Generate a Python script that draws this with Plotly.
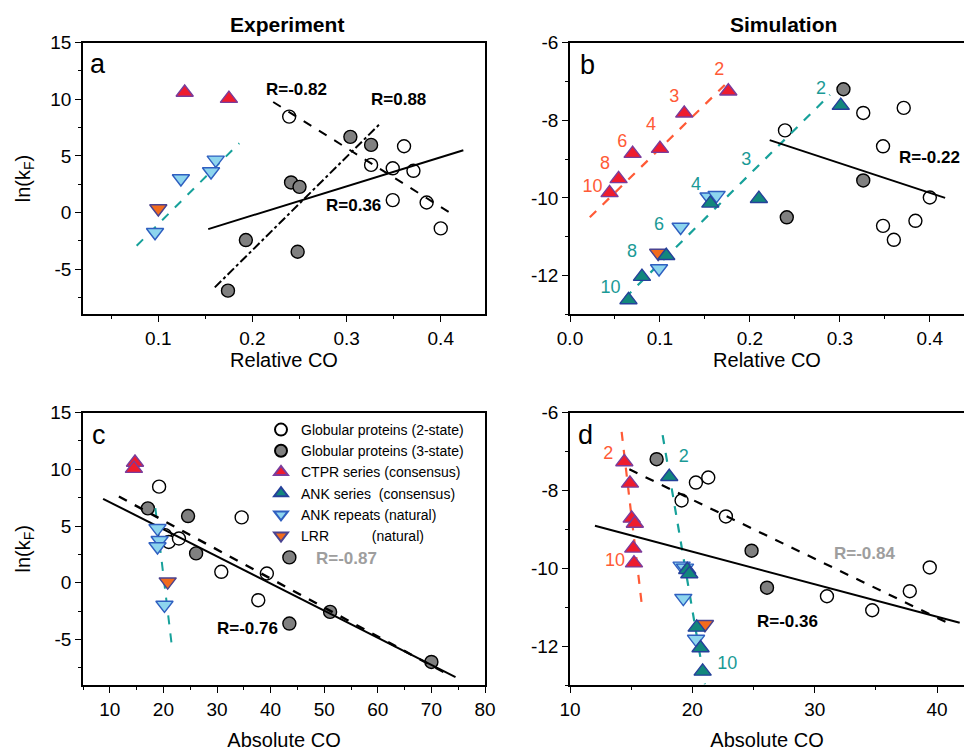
import plotly.graph_objects as go

# ---------------- data ----------------
# Panel a (Experiment, relative CO)
a_g2_x = [0.239, 0.326, 0.349, 0.361, 0.371, 0.349, 0.385, 0.400]
a_g2_y = [8.47, 4.2, 3.9, 5.85, 3.68, 1.09, 0.88, -1.41]
a_g3_x = [0.304, 0.326, 0.241, 0.250, 0.193, 0.248, 0.174]
a_g3_y = [6.68, 5.97, 2.65, 2.26, -2.44, -3.47, -6.91]
a_ctpr_x = [0.128, 0.175]
a_ctpr_y = [10.6, 10.06]
a_ankr_x = [0.0965, 0.124, 0.156, 0.161]
a_ankr_y = [-1.75, 3.0, 3.62, 4.65]
a_lrr_x = [0.100]
a_lrr_y = [0.35]
a_fit_teal_x = [0.077, 0.186]
a_fit_teal_y = [-2.94, 6.12]
a_fit_2s_x = [0.222, 0.414]
a_fit_2s_y = [9.76, -0.24]
a_fit_3s_x = [0.160, 0.336]
a_fit_3s_y = [-6.62, 7.88]
a_fit_all_x = [0.153, 0.424]
a_fit_all_y = [-1.47, 5.5]

# Panel b (Simulation, relative CO)
b_g2_x = [0.239, 0.326, 0.371, 0.348, 0.400, 0.348, 0.360, 0.384]
b_g2_y = [-8.26, -7.81, -7.68, -8.67, -9.99, -10.72, -11.08, -10.59]
b_g3_x = [0.304, 0.326, 0.241]
b_g3_y = [-7.2, -9.55, -10.5]
b_ctpr_x = [0.176, 0.127, 0.100, 0.0696, 0.054, 0.044]
b_ctpr_y = [-7.25, -7.82, -8.73, -8.86, -9.51, -9.87]
b_ank_x = [0.301, 0.210, 0.156, 0.107, 0.080, 0.065]
b_ank_y = [-7.62, -10.02, -10.14, -11.49, -12.03, -12.63]
b_ankr_x = [0.154, 0.163, 0.123, 0.099]
b_ankr_y = [-9.97, -9.93, -10.75, -11.82]
b_lrr_x = [0.098]
b_lrr_y = [-11.42]
b_fit_ctpr_x = [0.022, 0.176]
b_fit_ctpr_y = [-10.5, -7.0]
b_fit_ank_x = [0.061, 0.289]
b_fit_ank_y = [-12.58, -7.34]
b_fit_glob_x = [0.222, 0.417]
b_fit_glob_y = [-8.51, -10.0]
b_lab_ctpr = ["2", "3", "4", "6", "8", "10"]
b_lab_ctpr_x = [0.166, 0.116, 0.090, 0.058, 0.039, 0.025]
b_lab_ctpr_y = [-6.72, -7.40, -8.13, -8.56, -9.15, -9.72]
b_lab_ank = ["2", "3", "4", "6", "8", "10"]
b_lab_ank_x = [0.279, 0.196, 0.140, 0.099, 0.069, 0.045]
b_lab_ank_y = [-7.20, -9.03, -9.68, -10.70, -11.42, -12.34]

# Panel c (Experiment, absolute CO)
c_g2_x = [19.2, 20.3, 21.0, 22.9, 34.6, 30.8, 39.3, 37.7]
c_g2_y = [8.47, 4.2, 3.6, 3.9, 5.76, 0.97, 0.82, -1.53]
c_g3_x = [17.1, 24.6, 26.1, 43.5, 43.5, 51.1, 70.0]
c_g3_y = [6.56, 5.88, 2.59, 2.24, -3.59, -2.56, -6.97]
c_ctpr_x = [14.7, 14.5]
c_ctpr_y = [10.6, 10.06]
c_ankr_x = [18.9, 19.3, 18.9, 20.2]
c_ankr_y = [4.8, 3.75, 3.2, -1.95]
c_lrr_x = [20.8]
c_lrr_y = [0.1]
c_fit_teal_x = [18.5, 21.6]
c_fit_teal_y = [6.57, -5.65]
c_fit_all_x = [8.75, 74.5]
c_fit_all_y = [7.4, -8.3]
c_fit_glob_x = [11.7, 72.8]
c_fit_glob_y = [7.6, -8.0]

# Panel d (Simulation, absolute CO)
d_g2_x = [20.29, 21.3, 19.12, 22.74, 31.0, 34.7, 37.77, 39.4]
d_g2_y = [-7.8, -7.67, -8.26, -8.67, -10.72, -11.08, -10.59, -9.98]
d_g3_x = [17.08, 24.84, 26.1]
d_g3_y = [-7.2, -9.55, -10.5]
d_ctpr_x = [14.44, 14.9, 15.04, 15.3, 15.17, 15.23]
d_ctpr_y = [-7.27, -7.82, -8.72, -8.85, -9.49, -9.87]
d_ank_x = [18.11, 19.58, 19.75, 20.35, 20.67, 20.84]
d_ank_y = [-7.65, -10.04, -10.15, -11.52, -12.05, -12.65]
d_ankr_x = [19.12, 19.4, 19.26, 20.3]
d_ankr_y = [-9.94, -9.99, -10.77, -11.82]
d_lrr_x = [21.03]
d_lrr_y = [-11.44]
d_fit_ctpr_x = [14.22, 15.9]
d_fit_ctpr_y = [-6.5, -11.02]
d_fit_ank_x = [17.57, 21.03]
d_fit_ank_y = [-6.58, -12.98]
d_fit_all_x = [12.04, 41.85]
d_fit_all_y = [-8.91, -11.4]
d_fit_glob_x = [14.85, 41.3]
d_fit_glob_y = [-7.46, -11.47]
d_lab_ctpr = ["2", "10"]
d_lab_ctpr_x = [13.13, 13.68]
d_lab_ctpr_y = [-7.09, -9.82]
d_lab_ank = ["2", "10"]
d_lab_ank_x = [19.3, 22.85]
d_lab_ank_y = [-7.15, -12.47]

# correlation labels
a_r_text = ["R=-0.82", "R=0.88", "R=0.36"]
a_r_x = [0.247, 0.355, 0.307]
a_r_y = [10.9, 10.0, 0.59]
b_r_text = ["R=-0.22"]
b_r_x = [0.400]
b_r_y = [-8.97]
c_r_text = ["R=-0.87", "R=-0.76"]
c_r_x = [54.2, 35.6]
c_r_y = [2.15, -4.0]
d_r_text = ["R=-0.84", "R=-0.36"]
d_r_x = [34.1, 27.8]
d_r_y = [-9.61, -11.38]

# tick values / labels
lnk_ticks_exp = [-5, 0, 5, 10, 15]
lnk_text_exp = ["-5", "0", "5", "10", "15"]
lnk_ticks_sim = [-12, -10, -8, -6]
lnk_text_sim = ["-12", "-10", "-8", "-6"]

legend_names = ["Globular proteins (2-state)", "Globular proteins (3-state)",
                "CTPR series (consensus)", "ANK series\u00a0 (consensus)",
                "ANK repeats (natural)",
                "LRR\u00a0\u00a0\u00a0\u00a0\u00a0\u00a0\u00a0\u00a0\u00a0\u00a0 (natural)"]

# ---------------- styles ----------------
FONT = "Arial, Liberation Sans, sans-serif"
RED_F, RED_L = "#ee1c2e", "#7a3c9c"
ANK_F, ANK_L = "#12877c", "#25409a"
ANKR_F, ANKR_L = "#8dd5ee", "#2f5fc0"
LRR_F, LRR_L = "#f26b1d", "#4a4390"
GRAY = "#808080"
TEAL_LINE = "#17a19a"
RED_LINE = "#ff5a36"
TEAL_TXT = "#1a9a96"
RED_TXT = "#ff5a36"
GRAY_TXT = "#9e9e9e"

fig = go.Figure()

axes = {"a": ("x", "y"), "b": ("x2", "y2"), "c": ("x3", "y3"), "d": ("x4", "y4")}
KINDS = ["g2", "g3", "ctpr", "ank", "ankr", "lrr"]


def markers(p, x, y, kind, legend=False):
    xa, ya = axes[p]
    style = {
        "g2": dict(symbol="circle", size=13, color="white", line=dict(color="black", width=1.4)),
        "g3": dict(symbol="circle", size=13, color=GRAY, line=dict(color="black", width=1.4)),
        "ctpr": dict(symbol="triangle-up", size=15, color=RED_F, line=dict(color=RED_L, width=1.4)),
        "ank": dict(symbol="triangle-up", size=15, color=ANK_F, line=dict(color=ANK_L, width=1.4)),
        "ankr": dict(symbol="triangle-down", size=15, color=ANKR_F, line=dict(color=ANKR_L, width=1.4)),
        "lrr": dict(symbol="triangle-down", size=15, color=LRR_F, line=dict(color=LRR_L, width=1.4)),
    }[kind]
    idx = KINDS.index(kind)
    fig.add_trace(go.Scatter(x=x, y=y, mode="markers", marker=style, xaxis=xa, yaxis=ya,
                             name=legend_names[idx], legendgroup=kind, showlegend=legend,
                             legendrank=idx + 1))


def line(p, x, y, color="black", dash="solid", width=2.0):
    xa, ya = axes[p]
    fig.add_trace(go.Scatter(x=x, y=y, mode="lines", line=dict(color=color, dash=dash, width=width),
                             xaxis=xa, yaxis=ya, showlegend=False, hoverinfo="skip"))


# globular circles first
markers("a", a_g2_x, a_g2_y, "g2", True)
markers("a", a_g3_x, a_g3_y, "g3", True)
markers("b", b_g2_x, b_g2_y, "g2")
markers("b", b_g3_x, b_g3_y, "g3")
markers("c", c_g2_x, c_g2_y, "g2")
markers("c", c_g3_x, c_g3_y, "g3")
markers("d", d_g2_x, d_g2_y, "g2")
markers("d", d_g3_x, d_g3_y, "g3")

# fit lines
line("a", a_fit_teal_x, a_fit_teal_y, TEAL_LINE, "dash", 2)
line("a", a_fit_2s_x, a_fit_2s_y, "black", "dash", 2)
line("a", a_fit_3s_x, a_fit_3s_y, "black", "dashdot", 2)
line("a", a_fit_all_x, a_fit_all_y, "black", "solid", 2)
line("b", b_fit_ctpr_x, b_fit_ctpr_y, RED_LINE, "dash", 2.2)
line("b", b_fit_ank_x, b_fit_ank_y, TEAL_LINE, "dash", 2.2)
line("b", b_fit_glob_x, b_fit_glob_y, "black", "solid", 2)
line("c", c_fit_teal_x, c_fit_teal_y, TEAL_LINE, "dash", 2)
line("c", c_fit_glob_x, c_fit_glob_y, "black", "dash", 2.4)
line("c", c_fit_all_x, c_fit_all_y, "black", "solid", 2)
line("d", d_fit_ctpr_x, d_fit_ctpr_y, RED_LINE, "dash", 2.2)
line("d", d_fit_ank_x, d_fit_ank_y, TEAL_LINE, "dash", 2.2)
line("d", d_fit_glob_x, d_fit_glob_y, "black", "dash", 2.2)
line("d", d_fit_all_x, d_fit_all_y, "black", "solid", 2)

# repeat proteins on top
markers("a", a_ctpr_x, a_ctpr_y, "ctpr", True)
markers("a", a_ankr_x, a_ankr_y, "ankr", True)
markers("a", a_lrr_x, a_lrr_y, "lrr", True)
markers("b", b_lrr_x, b_lrr_y, "lrr")
markers("b", b_ankr_x, b_ankr_y, "ankr")
markers("b", b_ctpr_x, b_ctpr_y, "ctpr")
markers("b", b_ank_x, b_ank_y, "ank", True)
markers("c", c_ctpr_x, c_ctpr_y, "ctpr")
markers("c", c_ankr_x, c_ankr_y, "ankr")
markers("c", c_lrr_x, c_lrr_y, "lrr")
markers("d", d_lrr_x, d_lrr_y, "lrr")
markers("d", d_ankr_x, d_ankr_y, "ankr")
markers("d", d_ctpr_x, d_ctpr_y, "ctpr")
markers("d", d_ank_x, d_ank_y, "ank")


def labels(p, x, y, t, color):
    xa, ya = axes[p]
    fig.add_trace(go.Scatter(x=x, y=y, mode="text", text=t, textposition="middle center",
                             textfont=dict(family=FONT, size=18, color=color),
                             xaxis=xa, yaxis=ya, showlegend=False, hoverinfo="skip"))


labels("b", b_lab_ctpr_x, b_lab_ctpr_y, b_lab_ctpr, RED_TXT)
labels("b", b_lab_ank_x, b_lab_ank_y, b_lab_ank, TEAL_TXT)
labels("d", d_lab_ctpr_x, d_lab_ctpr_y, d_lab_ctpr, RED_TXT)
labels("d", d_lab_ank_x, d_lab_ank_y, d_lab_ank, TEAL_TXT)

annotations = []


def rlabels(p, xs, ys, ts, colors):
    xa, ya = axes[p]
    for x, y, t, c in zip(xs, ys, ts, colors):
        annotations.append(dict(x=x, y=y, xref=xa, yref=ya, text="<b>%s</b>" % t, showarrow=False,
                                font=dict(family=FONT, size=17, color=c)))


rlabels("a", a_r_x, a_r_y, a_r_text, ["black"] * 3)
rlabels("b", b_r_x, b_r_y, b_r_text, ["black"])
rlabels("c", c_r_x, c_r_y, c_r_text, [GRAY_TXT, "black"])
rlabels("d", d_r_x, d_r_y, d_r_text, [GRAY_TXT, "black"])

for p, lx, ly, txt in [("a", 0.036, 13.1, "a"), ("b", 0.02, -6.57, "b"),
                       ("c", 7.95, 13.0, "c"), ("d", 11.3, -6.58, "d")]:
    xa, ya = axes[p]
    annotations.append(dict(x=lx, y=ly, xref=xa, yref=ya, text=txt, showarrow=False,
                            font=dict(family=FONT, size=27, color="black")))

W, H = 964, 751
annotations.append(dict(x=287 / W, y=1 - 25 / H, xref="paper", yref="paper", text="<b>Experiment</b>",
                        xanchor="center", yanchor="middle", showarrow=False,
                        font=dict(family=FONT, size=21, color="black")))
annotations.append(dict(x=783 / W, y=1 - 25 / H, xref="paper", yref="paper", text="<b>Simulation</b>",
                        xanchor="center", yanchor="middle", showarrow=False,
                        font=dict(family=FONT, size=21, color="black")))

dom_x_left = [83 / W, 485 / W]
dom_x_right = [570 / W, 1.0]
dom_y_top = [1 - 314.3 / H, 1 - 42.7 / H]
dom_y_bot = [1 - 685 / H, 1 - 412.5 / H]

tickfont = dict(family=FONT, size=19, color="black")
titlefont = dict(family=FONT, size=20, color="black")


def common(domain, anchor, rng, dtick, minor):
    return dict(domain=domain, anchor=anchor, range=rng, dtick=dtick, tick0=0, automargin=False,
                showline=True, mirror=True, linecolor="black", linewidth=1.6,
                ticks="outside", ticklen=6, tickwidth=1.4, tickcolor="black",
                minor=dict(dtick=minor, tick0=0, ticks="outside", ticklen=3, tickwidth=1.2,
                           tickcolor="black"),
                showgrid=False, zeroline=False, tickfont=tickfont)


def xax(domain, anchor, rng, dtick, minor, title, fmt="", standoff=4):
    d = common(domain, anchor, rng, dtick, minor)
    d.update(tickformat=fmt, title=dict(text=title, font=titlefont, standoff=standoff))
    return d


def yax(domain, anchor, rng, dtick, minor, vals, texts, title=None):
    d = common(domain, anchor, rng, dtick, minor)
    d.update(tickmode="array", tickvals=vals, ticktext=texts)
    if title:
        d.update(title=dict(text=title, font=titlefont, standoff=14))
    return d


lnk = "ln(k<sub>F</sub>)"
fig.update_layout(
    width=W, height=H,
    margin=dict(l=0, r=0, t=0, b=0, autoexpand=False),
    paper_bgcolor="white", plot_bgcolor="white",
    font=dict(family=FONT, color="black"),
    xaxis=xax(dom_x_left, "y", [0.02, 0.447], 0.1, 0.05, "Relative CO"),
    yaxis=yax(dom_y_top, "x", [-9, 15], 5, 2.5, lnk_ticks_exp, lnk_text_exp, lnk),
    xaxis2=xax(dom_x_right, "y2", [0.0, 0.438], 0.1, 0.05, "Relative CO", ".1f"),
    yaxis2=yax(dom_y_top, "x2", [-13, -6], 2, 1, lnk_ticks_sim, lnk_text_sim),
    xaxis3=xax(dom_x_left, "y3", [5, 80], 10, 5, "Absolute CO", standoff=14),
    yaxis3=yax(dom_y_bot, "x3", [-9, 15], 5, 2.5, lnk_ticks_exp, lnk_text_exp, lnk),
    xaxis4=xax(dom_x_right, "y4", [10, 42.2], 10, 5, "Absolute CO", standoff=14),
    yaxis4=yax(dom_y_bot, "x4", [-13, -6], 2, 1, lnk_ticks_sim, lnk_text_sim),
    annotations=annotations,
    legend=dict(x=261 / W, y=1 - 414 / H, xanchor="left", yanchor="top",
                bgcolor="rgba(0,0,0,0)", font=dict(family=FONT, size=14, color="black"),
                itemsizing="constant", tracegroupgap=0, traceorder="normal"),
    showlegend=True,
)

fig.write_html("out.html", config={"displayModeBar": False},
               post_script="document.body.style.margin='0px';")
